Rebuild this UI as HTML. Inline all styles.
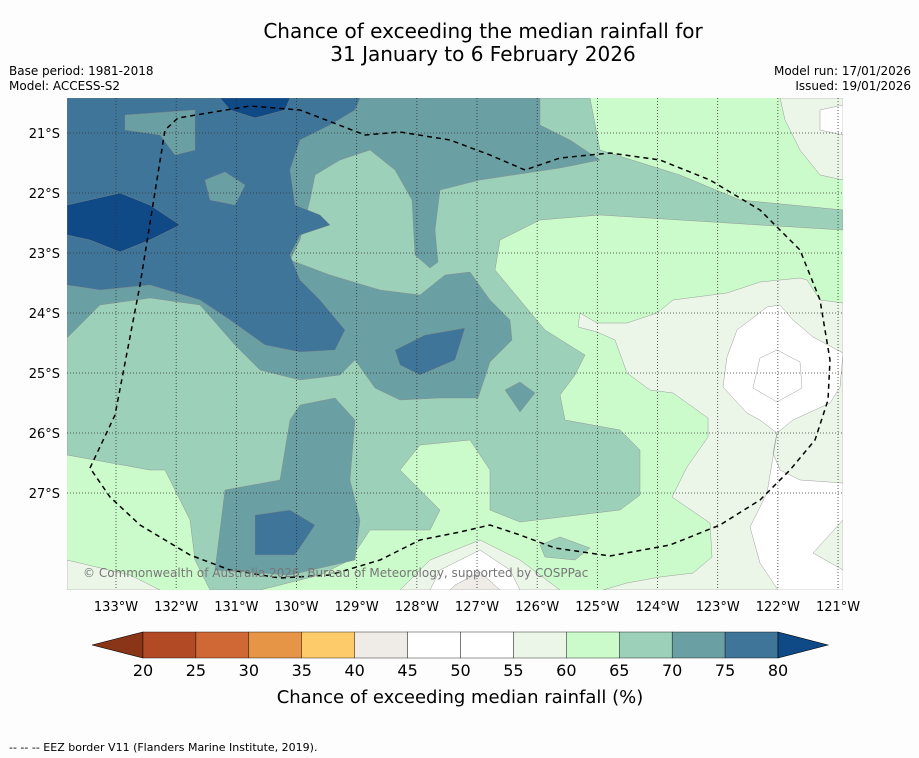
<!DOCTYPE html>
<html><head><meta charset="utf-8"><style>
body{margin:0;background:#fdfdfd;font-family:"Liberation Sans","DejaVu Sans",sans-serif;overflow:hidden;}
svg{display:block;}
svg text{font-family:"DejaVu Sans","Liberation Sans",sans-serif;}
</style></head><body>
<svg id="c" width="919" height="758" viewBox="0 0 919 758" xmlns="http://www.w3.org/2000/svg">
<rect width="919" height="758" fill="#fdfdfd"/>
<text x="483" y="38" font-size="20" text-anchor="middle">Chance of exceeding the median rainfall for</text>
<text x="483" y="61" font-size="20" text-anchor="middle">31 January to 6 February 2026</text>
<text x="9" y="75" font-size="12">Base period: 1981-2018</text>
<text x="9" y="90" font-size="12">Model: ACCESS-S2</text>
<text x="911" y="75" font-size="12" text-anchor="end">Model run: 17/01/2026</text>
<text x="911" y="90" font-size="12" text-anchor="end">Issued: 19/01/2026</text>
<defs><clipPath id="mc"><rect x="67" y="98" width="776" height="492"/></clipPath></defs>
<g clip-path="url(#mc)" stroke="#888" stroke-width="0.4">
<rect x="67" y="98" width="776" height="492" fill="#cbfacb" stroke="none"/>
<polygon fill="#ebf5e8" points="727,293 760,282 800,278 807,280 820,300 843,303 843,590 603,590 627,583 660,577 693,573 712,557 710,523 672,497 687,467 708,437 708,418 673,393 650,390 627,373 615,340 597,332 578,327 580,313 597,323 627,323 657,313 673,300"/>
<polygon fill="#ebf5e8" points="780,98 843,98 843,180 820,175 800,150 785,120"/>
<polygon fill="#ebf5e8" points="67,560 130,575 160,590 67,590"/>
<polygon fill="#ebf5e8" points="430,560 480,540 520,560 560,590 400,590"/>
<polygon fill="#ffffff" points="723,387 727,357 737,330 767,307 780,305 793,320 813,337 843,353 840,387 830,403 793,420 777,433 760,420 747,413"/>
<polygon fill="#ffffff" points="760,358 777,350 800,362 802,388 777,402 753,388"/>
<polygon fill="#ffffff" points="777,433 773,453 780,470 800,480 843,483 843,520 813,553 843,570 843,590 778,590 760,563 750,527 767,493"/>
<polygon fill="#ffffff" points="820,110 843,105 843,135 820,130"/>
<polygon fill="#ffffff" points="440,570 480,550 510,570 520,590 430,590"/>
<polygon fill="#efebe6" points="455,585 480,572 500,590 450,590"/>
<polygon fill="#9dd0b9" points="67,98 590,98 600,150 680,175 740,200 843,210 843,230 760,225 680,220 600,215 540,220 500,240 495,270 520,300 545,330 585,355 575,375 560,395 565,420 620,430 640,450 640,495 620,510 520,522 490,510 490,470 470,440 420,445 400,470 420,490 440,510 430,530 370,530 350,560 320,575 260,590 210,590 195,560 190,520 165,470 150,470 67,455"/>
<polygon fill="#9dd0b9" points="540,545 560,537 590,548 575,560 545,557"/>
<polygon fill="#6aa0a3" points="67,98 540,98 540,125 570,140 600,160 560,168 480,180 440,190 435,230 438,262 430,268 415,255 412,200 395,170 370,150 340,160 315,175 310,200 300,240 290,260 330,275 380,290 420,295 445,275 470,272 490,300 510,320 512,340 490,362 478,398 440,398 400,400 375,388 355,360 340,375 300,380 260,370 235,345 200,305 150,298 100,305 67,338"/>
<polygon fill="#6aa0a3" points="300,405 335,398 355,420 350,480 360,520 355,560 290,575 215,570 225,490 280,480 290,420"/>
<polygon fill="#6aa0a3" points="505,390 520,382 535,393 520,412"/>
<polygon fill="#3f7598" points="67,98 360,98 355,110 330,125 300,140 290,170 295,205 320,215 330,225 300,235 290,255 300,280 320,300 345,330 335,350 300,352 265,345 230,320 200,300 150,285 100,290 67,285"/>
<polygon fill="#6aa0a3" points="125,115 195,110 195,150 175,155 160,135 125,130"/>
<polygon fill="#6aa0a3" points="205,180 225,172 245,185 235,205 210,200"/>
<polygon fill="#3f7598" points="395,350 425,335 465,328 455,360 420,375 400,365"/>
<polygon fill="#3f7598" points="255,515 290,510 315,525 295,555 255,555"/>
<polygon fill="#0f4a87" points="67,205 120,193 150,205 180,225 150,240 120,252 90,240 67,235"/>
<polygon fill="#0f4a87" points="220,98 290,98 285,110 255,118 230,110"/>
<g id="grid" stroke="#333" stroke-width="0.8" stroke-dasharray="1,2" fill="none"></g>
<polyline fill="none" stroke="#000" stroke-width="1.5" stroke-dasharray="5,4" points="90,468 115,415 140,285 165,130 178,118 250,106 300,110 365,135 400,132 450,140 490,155 525,170 560,158 610,153 660,160 710,180 760,210 800,250 820,300 830,360 828,400 815,440 790,470 760,500 720,525 670,545 610,556 555,548 520,535 490,525 460,532 420,540 380,560 330,575 280,578 230,570 190,555 140,525 110,497 90,468"/>
<text x="83" y="577" font-size="12" fill="#777" stroke="none">© Commonwealth of Australia 2026, Bureau of Meteorology, supported by COSPPac</text>
</g>
<g id="axes"></g>
<g id="cbar"></g>
<text x="460" y="703" font-size="18" text-anchor="middle">Chance of exceeding median rainfall (%)</text>
<text x="9" y="751" font-size="11">--  --  -- EEZ border V11 (Flanders Marine Institute, 2019).</text>
</svg>
<script>
const lonTicks=[133,132,131,130,129,128,127,126,125,124,123,122,121];
const latTicks=[21,22,23,24,25,26,27];
const levels=[20,25,30,35,40,45,50,55,60,65,70,75,80];
const levelColors=['#b24a25','#cf6834','#e59545','#fdcb69','#efebe6','#ffffff','#ffffff','#ebf5e8','#cbfacb','#9dd0b9','#6aa0a3','#3f7598'];
const NS='http://www.w3.org/2000/svg';
const xLon=l=>116+(133-l)*60.17;
const yLat=l=>133+(l-21)*60;
const xLev=v=>143+(v-20)*(635/60);
function mk(t,a,p){const e=document.createElementNS(NS,t);for(const k in a)e.setAttribute(k,a[k]);p.appendChild(e);return e;}
const grid=document.getElementById('grid'),axes=document.getElementById('axes'),cb=document.getElementById('cbar');
lonTicks.forEach(l=>{const x=xLon(l);
 const g=mk('line',{x1:x,x2:x,y1:98,y2:590},grid);
 
 
 const t=mk('text',{x:x,y:611,'font-size':13,'text-anchor':'middle'},axes);t.textContent=l+'°W';
 
 });
latTicks.forEach(l=>{const y=yLat(l);
 const g=mk('line',{x1:67,x2:843,y1:y,y2:y},grid);
 
 
 const t=mk('text',{x:60,y:y+5,'font-size':13,'text-anchor':'end'},axes);t.textContent=l+'°S';
 
 });
const lo=mk('polygon',{points:`92,645 ${xLev(20)},632 ${xLev(20)},658`,fill:'#8a3518',stroke:'#000','stroke-width':0.6},cb);


for(let i=0;i<levelColors.length;i++){
 const r=mk('rect',{x:xLev(levels[i]),y:632,width:xLev(levels[i+1])-xLev(levels[i]),height:26,fill:levelColors[i],stroke:'#000','stroke-width':0.4},cb);
 
 }
const hi=mk('polygon',{points:`${xLev(80)},632 828,645 ${xLev(80)},658`,fill:'#0f4a87',stroke:'#000','stroke-width':0.6},cb);


levels.forEach(v=>{const t=mk('text',{x:xLev(v),y:676,'font-size':16,'text-anchor':'middle'},cb);t.textContent=v;
 
 });
</script>
</body></html>
